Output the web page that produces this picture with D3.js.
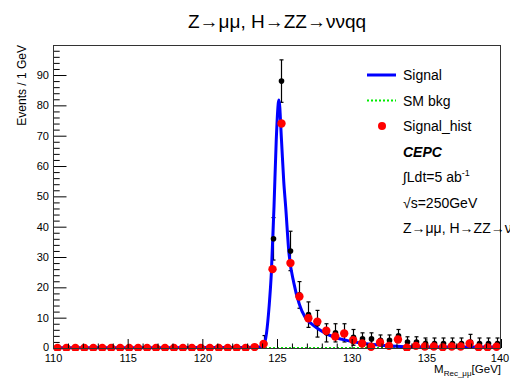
<!DOCTYPE html>
<html><head><meta charset="utf-8">
<script src="https://cdn.jsdelivr.net/npm/d3@7/dist/d3.min.js"></script>
<style>
html,body{margin:0;padding:0;background:#fff;}
svg{display:block;font-family:"Liberation Sans",Arial,Helvetica,sans-serif;}
</style></head>
<body>
<svg id="c" width="510" height="382"></svg>
<script>
// ---- data ----
const binLow = 110, binHigh = 140, nBins = 50;
const binCenters = [110.3,110.9,111.5,112.1,112.7,113.3,113.9,114.5,115.1,115.7,116.3,116.9,117.5,118.1,118.7,119.3,119.9,120.5,121.1,121.7,122.3,122.9,123.5,124.1,124.7,125.3,125.9,126.5,127.1,127.7,128.3,128.9,129.5,130.1,130.7,131.3,131.9,132.5,133.1,133.7,134.3,134.9,135.5,136.1,136.7,137.3,137.9,138.5,139.1,139.7];
const signalHist = [0,0,0,0,0,0,0,0,0,0,0,0,0,0,0,0,0,0,0,0,0,0,0.3,1.3,26,74,28,17,9.8,8.7,5.7,3.8,4.8,2.6,1.5,0.4,1.8,0.7,2.8,0.1,0.7,0.5,0.5,0.2,0.5,0.5,1.5,0.2,0.2,0.4];
const dataVals = [0,0,0,0,0,0,0,0,0,0,0,0,0,0,0,0,0,0,0,0,0,0,0.3,1.5,36,88,32,17.5,11,8,5,5,5,3.5,3,3,2.5,2.5,4,2,2,1.5,1.5,1.5,1.5,1.5,2,1.5,1.5,1.5];
const dataErrs = [0,0,0,0,0,0,0,0,0,0,0,0,0,0,0,0,0,0,0,0,0,0,0.5,2.6,7,7,6.5,4.4,4.2,4.4,3,3,3,2.6,2,2,1.8,1.8,2.1,1.7,1.7,1.8,1.8,1.8,1.8,1.8,2.5,1.8,1.8,1.8];
const curveX = [110,115,120,123,123.8,124.1,124.3,124.47,124.62,124.8,124.95,125.13,125.3,125.45,125.58,125.8,126.13,126.47,126.9,127.3,127.7,128.25,129,129.6,130.5,131.8,133,134,136,140];
const curveY = [0.1,0.1,0.15,0.2,0.3,0.8,5,13.6,24.6,46.6,68.6,81.8,68.6,55,46.6,31.3,21.4,14.8,10,8,6.5,4.8,3.3,2.6,1.7,1.0,0.6,0.4,0.3,0.3];
const bkgX = [110,140];
const bkgY = [0,0];
const xTicks = [110,115,120,125,130,135,140];
const yTicks = [0,10,20,30,40,50,60,70,80,90];
const legendLabels = ["Signal","SM bkg","Signal_hist"];

// ---- layout ----
const svg = d3.select("#c");
const L = 53, R = 501, T = 45, B = 348;
const x = d3.scaleLinear().domain([binLow,binHigh]).range([L,R]);
const y = d3.scaleLinear().domain([0,99.9]).range([B,T]);
const font = '"Liberation Sans",Arial,Helvetica,sans-serif';

// title
svg.append("text").attr("x",(L+R)/2).attr("y",28).attr("text-anchor","middle")
  .attr("font-size",19).text("Z\u2192\u03bc\u03bc, H\u2192ZZ\u2192\u03bd\u03bdqq");

// plot clip
svg.append("clipPath").attr("id","pc").append("rect").attr("x",L).attr("y",T).attr("width",R-L).attr("height",B-T+3);
const plot = svg.append("g").attr("clip-path","url(#pc)");

// background (SM bkg) dotted line
const line = d3.line().x(d=>x(d[0])).y(d=>y(d[1]));
plot.append("path").datum(bkgX.map((v,i)=>[v,bkgY[i]])).attr("d",line)
  .attr("fill","none").attr("stroke","#00ee00").attr("stroke-width",2).attr("stroke-dasharray","2,2");

// data error bars (black)
const dat = binCenters.map((c,i)=>({c,v:dataVals[i],e:dataErrs[i]}));
const eb = plot.append("g").attr("stroke","#000").attr("stroke-width",1.2);
dat.filter(d=>d.e>0).forEach(d=>{
  const cx = Math.round(x(d.c))+0.5;
  eb.append("line").attr("x1",cx).attr("x2",cx).attr("y1",y(d.v+d.e)).attr("y2",y(Math.max(0,d.v-d.e)));
  eb.append("line").attr("x1",cx-2).attr("x2",cx+2).attr("y1",y(d.v+d.e)).attr("y2",y(d.v+d.e));
  if (d.v-d.e>0) eb.append("line").attr("x1",cx-2).attr("x2",cx+2).attr("y1",y(d.v-d.e)).attr("y2",y(d.v-d.e));
});

// signal curve
const curve = d3.line().x(d=>x(d[0])).y(d=>y(d[1])).curve(d3.curveMonotoneX);
plot.append("path").datum(curveX.map((v,i)=>[v,curveY[i]])).attr("d",curve)
  .attr("fill","none").attr("stroke","#0000ff").attr("stroke-width",3).attr("stroke-linejoin","round");

// data markers
plot.append("g").selectAll("circle").data(dat).join("circle")
  .attr("cx",d=>Math.round(x(d.c))+0.5).attr("cy",d=>y(d.v)).attr("r",2.8).attr("fill","#000");

// red signal hist markers
plot.append("g").selectAll("circle").data(binCenters.map((c,i)=>({c,v:signalHist[i]}))).join("circle")
  .attr("cx",d=>x(d.c)).attr("cy",d=>y(d.v)).attr("r",4.2).attr("fill","#ff0000");

// axes
const ax = svg.append("g").attr("font-family",font);
const yMajor = d3.axisLeft(y).tickValues(yTicks).tickSize(-13.5).tickPadding(4).tickFormat(d3.format("d"));
const yMinor = d3.axisLeft(y).tickValues(d3.range(0,100,2).filter(v=>v%10!==0)).tickSize(-6.7).tickFormat("");
const xMajor = d3.axisBottom(x).tickValues(xTicks).tickSize(-9).tickPadding(6).tickFormat(d3.format("d"));
const xMinor = d3.axisBottom(x).tickValues(d3.range(111,140,1).filter(v=>v%5!==0)).tickSize(-4.5).tickFormat("");
function styleAxis(g){ g.select(".domain").remove(); g.selectAll("line").attr("stroke","#000"); g.selectAll("text").attr("font-size",11).attr("fill","#000").attr("font-family",font);}
ax.append("g").attr("transform",`translate(${L},0)`).call(yMajor).call(styleAxis);
ax.append("g").attr("transform",`translate(${L},0)`).call(yMinor).call(styleAxis);
const gx = ax.append("g").attr("transform",`translate(0,${B})`).call(xMajor).call(styleAxis);
ax.append("g").attr("transform",`translate(0,${B})`).call(xMinor).call(styleAxis);
// nudge the "0" y label up slightly and keep "140" inside the canvas
ax.selectAll("g.tick text").filter(function(){return this.textContent==="0";}).attr("dy","0.2em");
gx.selectAll("g.tick text").filter(function(){return this.textContent==="140";}).attr("dx",-1.5);

// frame
svg.append("rect").attr("x",L+0.5).attr("y",T+0.5).attr("width",R-L-1).attr("height",B-T)
  .attr("fill","none").attr("stroke","#333").attr("stroke-width",1);

// axis titles
svg.append("text").attr("transform",`translate(26,${T}) rotate(-90)`).attr("text-anchor","end")
  .attr("font-size",12).text("Events / 1 GeV");
const xt = svg.append("text").attr("x",R).attr("y",373).attr("text-anchor","end").attr("font-size",11.5);
xt.append("tspan").text("M");
xt.append("tspan").attr("font-size",8).attr("dy",3).text("Rec_\u03bc\u03bc");
xt.append("tspan").attr("dy",-3).text("[GeV]");

// legend
const lg = svg.append("g").attr("font-size",14);
const rows = [75,100.5,126,151.5,177,202.5,228];
lg.append("line").attr("x1",367).attr("x2",396).attr("y1",rows[0]).attr("y2",rows[0]).attr("stroke","#0000ff").attr("stroke-width",3);
lg.append("line").attr("x1",367).attr("x2",396).attr("y1",rows[1]).attr("y2",rows[1]).attr("stroke","#00ee00").attr("stroke-width",2).attr("stroke-dasharray","2,2");
lg.append("circle").attr("cx",382).attr("cy",rows[2]).attr("r",4).attr("fill","#ff0000");
legendLabels.forEach((t,i)=>lg.append("text").attr("x",403).attr("y",rows[i]+5).text(t));
lg.append("text").attr("x",403).attr("y",rows[3]+5).attr("font-weight","bold").attr("font-style","italic").text("CEPC");
const lum = lg.append("text").attr("x",403).attr("y",rows[4]+5);
lum.append("tspan").text("\u222bLdt=5 ab");
lum.append("tspan").attr("font-size",9).attr("dy",-6).text("-1");
lg.append("text").attr("x",403).attr("y",rows[5]+5).text("\u221as=250GeV");
lg.append("text").attr("x",403).attr("y",rows[6]+5).text("Z\u2192\u03bc\u03bc, H\u2192ZZ\u2192\u03bd\u03bdqq");
</script>
</body></html>
